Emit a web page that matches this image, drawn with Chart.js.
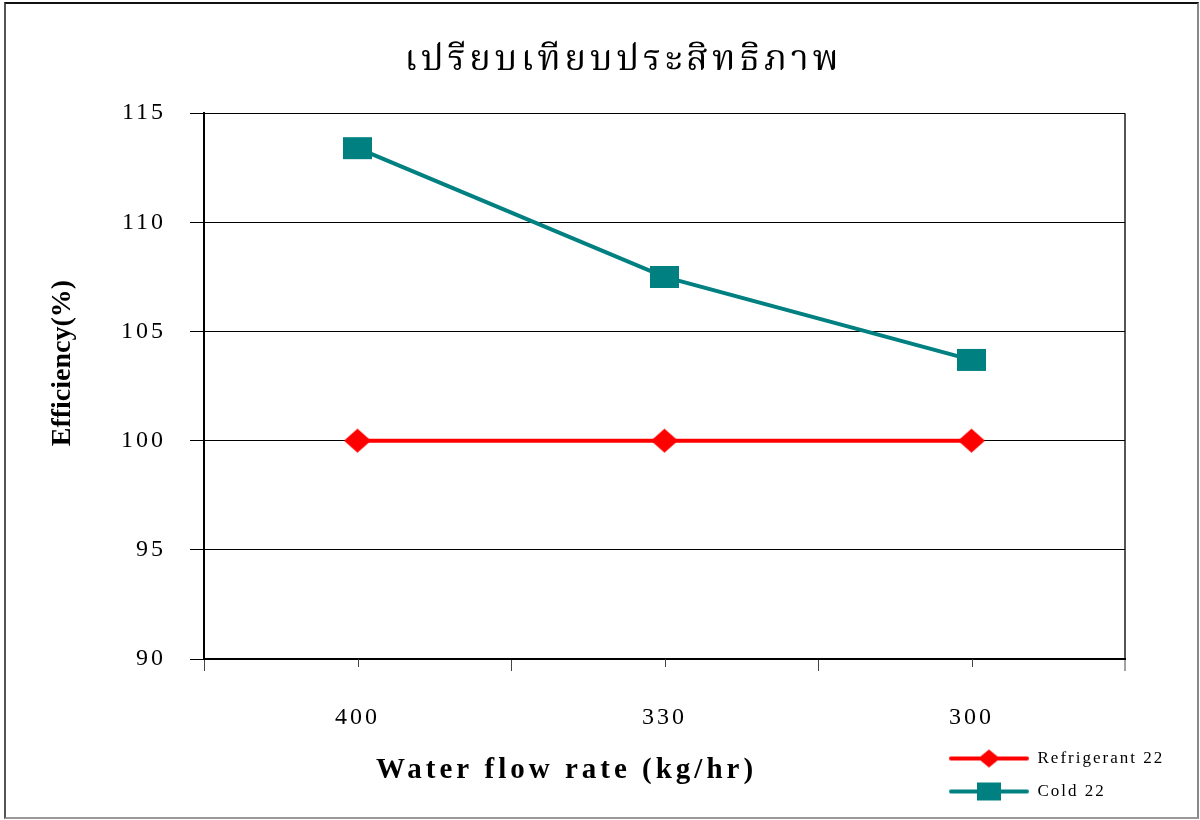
<!DOCTYPE html>
<html>
<head>
<meta charset="utf-8">
<script src="https://cdn.jsdelivr.net/npm/chart.js@4.4.1/dist/chart.umd.min.js"></script>
<style>
  html, body { margin: 0; padding: 0; background: #fff; }
  #wrap { position: relative; width: 1200px; height: 820px; }
  #frame { position: absolute; left: 4px; top: 2px; width: 1191px; height: 813px;
    border-left: 2px solid #555; border-top: 2px solid #111; border-right: 2px solid #888; border-bottom: 2px solid #999;
    pointer-events: none; }
</style>
</head>
<body>
<div id="wrap">
  <canvas id="c" width="1200" height="820"></canvas>
  <div id="frame"></div>
</div>
<script>
// ---- data ----
const chartTitle = 'เปรียบเทียบประสิทธิภาพ';
const xTitle = 'Water flow rate (kg/hr)';
const yTitle = 'Efficiency(%)';
const categories = ['400', '330', '300'];
const seriesNames = ['Refrigerant 22', 'Cold 22'];
const refrigerant22 = [100, 100, 100];
const cold22 = [113.4, 107.5, 103.7];
const yMin = 90, yMax = 115, yStep = 5;

const RED = '#FF0000';
const TEAL = '#008080';
const SERIF = "'Liberation Serif', 'Times New Roman', 'DejaVu Serif', serif";
const THAI_SERIF = "'Norasi', 'Noto Serif Thai', 'Noto Sans Thai Looped', 'Liberation Serif', serif";

// ---- marker images ----
function markerCanvas(kind, color, w, h, lineLen) {
  const cw = lineLen || w, ch = h + 2;
  const c = document.createElement('canvas');
  c.width = cw; c.height = ch;
  const g = c.getContext('2d');
  const cx = cw / 2, cy = ch / 2;
  if (lineLen) {
    g.strokeStyle = color; g.lineWidth = 4; g.lineCap = 'round';
    g.beginPath(); g.moveTo(3, cy); g.lineTo(cw - 3, cy); g.stroke();
  }
  g.fillStyle = color;
  if (kind === 'diamond') {
    g.beginPath();
    g.moveTo(cx, cy - h / 2); g.lineTo(cx + w / 2, cy); g.lineTo(cx, cy + h / 2); g.lineTo(cx - w / 2, cy);
    g.closePath(); g.fill();
  } else {
    g.fillRect(Math.round(cx - w / 2), Math.round(cy - h / 2), w, h);
  }
  return c;
}
const diamondImg = markerCanvas('diamond', RED, 27, 24);
const squareImg = markerCanvas('square', TEAL, 29, 22);
const diamondLegend = markerCanvas('diamond', RED, 22, 18, 82);
const squareLegend = markerCanvas('square', TEAL, 24, 18, 82);
const legendImgs = [diamondLegend, squareLegend];

// ---- helpers for letter spacing / shifting ----
function wrap(obj, method, spacing, dx, dy) {
  if (!obj || obj['__wrapped_' + method]) return;
  const orig = obj[method];
  obj[method] = function (...args) {
    const ctx = this.ctx;
    ctx.save();
    ctx.letterSpacing = spacing;
    if (dx || dy) ctx.translate(dx || 0, dy || 0);
    try { return orig.apply(this, args); } finally { ctx.restore(); }
  };
  obj['__wrapped_' + method] = true;
}

const stylePlugin = {
  id: 'stylePlugin',
  beforeDraw(chart) {
    wrap(chart.titleBlock, 'draw', '3.9px', 61, 2);
    wrap(chart.scales.x, 'drawLabels', '3px');
    wrap(chart.scales.x, 'drawTitle', '4px', -98, 0);
    wrap(chart.scales.y, 'drawLabels', '3px');
    wrap(chart.scales.y, 'drawTitle', '0px', 0, -23);
    wrap(chart.legend, 'draw', '2px');
    const lg = chart.legend;
    if (lg) {
      lg.left = 933; lg.top = 734; lg.right = 1192; lg.bottom = 819;
      lg.width = lg.right - lg.left; lg.height = lg.bottom - lg.top;
    }
  },
  afterDraw(chart) {
    // short tick marks at category centres
    const xs = chart.scales.x, ctx = chart.ctx;
    ctx.save();
    ctx.strokeStyle = '#444'; ctx.lineWidth = 1;
    xs.ticks.forEach((t, i) => {
      const px = Math.round(xs.getPixelForTick(i)) + 0.5;
      ctx.beginPath(); ctx.moveTo(px, xs.top); ctx.lineTo(px, xs.top + 8); ctx.stroke();
    });
    ctx.restore();
  }
};

new Chart(document.getElementById('c'), {
  type: 'line',
  data: {
    labels: categories,
    datasets: [
      { label: seriesNames[0], data: refrigerant22, borderColor: RED, backgroundColor: RED,
        borderWidth: 4, pointStyle: diamondImg, pointRadius: 12, tension: 0 },
      { label: seriesNames[1], data: cold22, borderColor: TEAL, backgroundColor: TEAL,
        borderWidth: 4, pointStyle: squareImg, pointRadius: 12, tension: 0 }
    ]
  },
  options: {
    responsive: false,
    animation: false,
    events: [],
    layout: { padding: { left: 0, top: 0, right: 75, bottom: 0 } },
    plugins: {
      tooltip: { enabled: false },
      title: {
        display: true, text: chartTitle, color: '#000',
        font: { family: THAI_SERIF, size: 36, weight: 'normal' },
        padding: { top: 40, bottom: 30 }
      },
      legend: {
        display: true, position: 'chartArea', align: 'start',
        labels: {
          color: '#000', font: { family: SERIF, size: 17 },
          usePointStyle: true, pointStyleWidth: 80, padding: 16,
          generateLabels(chart) {
            const items = Chart.defaults.plugins.legend.labels.generateLabels(chart);
            items.forEach((it, i) => { it.pointStyle = legendImgs[i]; });
            return items;
          }
        }
      }
    },
    scales: {
      x: {
        type: 'category',
        offset: true,
        afterFit(s) { s.height = 161; },
        border: { display: true, color: '#000', width: 2 },
        grid: {
          offset: true, drawOnChartArea: true, drawTicks: true, tickLength: 12,
          tickColor: '#444', tickWidth: 1,
          color: (ctx) => (ctx.type === 'scale' ? '#555' : 'rgba(0,0,0,0)'),
          lineWidth: (ctx) => (ctx.type === 'scale' ? 2 : 1)
        },
        ticks: { color: '#000', font: { family: SERIF, size: 24 }, padding: 32, maxRotation: 0 },
        title: { display: true, text: xTitle, color: '#000',
          font: { family: SERIF, size: 29, weight: 'bold' }, padding: { top: 0, bottom: 32 } }
      },
      y: {
        min: yMin, max: yMax,
        afterFit(s) { s.width = 204; },
        border: { display: true, color: '#000', width: 2 },
        grid: { color: '#000', lineWidth: 1, tickLength: 14, tickColor: '#000' },
        ticks: { stepSize: yStep, color: '#000', font: { family: SERIF, size: 24 }, padding: 24 },
        title: { display: true, text: yTitle, color: '#000',
          font: { family: SERIF, size: 28, weight: 'bold' }, padding: { top: 46, bottom: 0 } }
      }
    }
  },
  plugins: [stylePlugin]
});
</script>
</body>
</html>
